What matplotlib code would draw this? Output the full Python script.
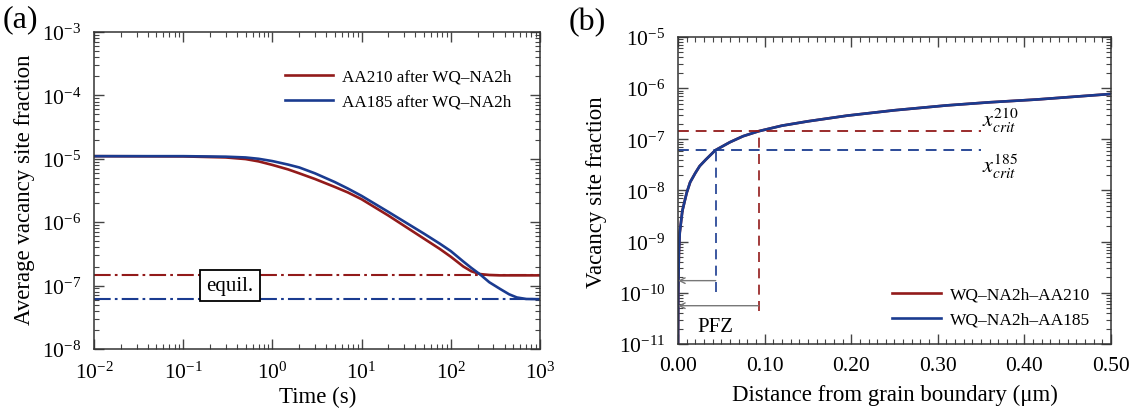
import numpy as np
import matplotlib
matplotlib.use("Agg")
import matplotlib.pyplot as plt
from matplotlib.ticker import LogLocator, MultipleLocator, FormatStrFormatter, NullFormatter

plt.rcParams['font.family'] = ['Liberation Serif', 'DejaVu Serif']
plt.rcParams['mathtext.fontset'] = 'stix'

RED = '#921a1a'
BLUE = '#1a3b90'

# ---- panel (a) data ----
time_s = [0.01, 0.1, 0.3, 0.5, 0.7, 1, 1.5, 2, 3, 5, 7, 10, 20, 50, 75, 100, 138, 170, 213,
          270, 355, 450, 550, 700, 1000]
avg_aa210 = [1.1e-5, 1.09e-5, 1.05e-5, 9.9e-6, 9.1e-6, 8.0e-6, 6.8e-6, 5.9e-6, 4.8e-6, 3.6e-6,
             2.95e-6, 2.3e-6, 1.27e-6, 5.5e-7, 3.8e-7, 2.85e-7, 2.0e-7, 1.68e-7, 1.52e-7,
             1.47e-7, 1.45e-7, 1.45e-7, 1.45e-7, 1.45e-7, 1.45e-7]
avg_aa185 = [1.1e-5, 1.1e-5, 1.08e-5, 1.05e-5, 1.0e-5, 9.2e-6, 8.1e-6, 7.3e-6, 5.9e-6, 4.3e-6,
             3.4e-6, 2.6e-6, 1.45e-6, 6.6e-7, 4.6e-7, 3.5e-7, 2.4e-7, 1.9e-7, 1.5e-7,
             1.13e-7, 8.9e-8, 7.3e-8, 6.5e-8, 6.15e-8, 6.1e-8]
equil_aa210 = 1.47e-7
equil_aa185 = 6.15e-8
legend_a = ['AA210 after WQ\u2013NA2h', 'AA185 after WQ\u2013NA2h']

# ---- panel (b) data ----
dist_um = [0.0, 0.0003, 0.001, 0.002, 0.005, 0.01, 0.014, 0.02, 0.025, 0.032, 0.043, 0.06,
           0.075, 0.093, 0.12, 0.15, 0.195, 0.25, 0.31, 0.36, 0.414, 0.5]
vac_profile = [1e-11, 1e-10, 6e-10, 1.5e-9, 4e-9, 9e-9, 1.45e-8, 2.2e-8, 3.0e-8, 4.0e-8, 6.1e-8, 8.8e-8,
               1.15e-7, 1.44e-7, 1.85e-7, 2.25e-7, 2.9e-7, 3.7e-7, 4.6e-7, 5.3e-7, 6.0e-7, 7.7e-7]
xcrit_210 = 1.45e-7
xcrit_185 = 6.1e-8
pfz_210 = 0.0932
pfz_185 = 0.0435
legend_b = ['WQ\u2013NA2h\u2013AA210', 'WQ\u2013NA2h\u2013AA185']

fig = plt.figure(figsize=(11.34, 4.14), dpi=100)
axa = fig.add_axes([0.0829, 0.1546, 0.3933, 0.7657])
axb = fig.add_axes([0.5979, 0.1667, 0.3818, 0.7415])

def style(ax):
    ax.tick_params(which='both', direction='in', top=True, right=True, colors='#444444',
                   labelcolor='black', labelsize=15.5)
    ax.tick_params(which='major', length=7, width=1)
    ax.tick_params(which='minor', length=3.5, width=0.8)
    ax.tick_params(axis='x', which='major', pad=9)
    ax.tick_params(axis='y', which='major', pad=9)
    for s in ax.spines.values():
        s.set_color('#333333')
        s.set_linewidth(1.1)

dashdot = (0, (8, 2, 1.3, 2))

# panel (a)
axa.set_xscale('log')
axa.set_yscale('log')
axa.axhline(equil_aa210, color=RED, lw=1.5, ls=dashdot)
axa.axhline(equil_aa185, color=BLUE, lw=1.5, ls=dashdot)
axa.plot(time_s, avg_aa210, color=RED, lw=1.9, label=legend_a[0])
axa.plot(time_s, avg_aa185, color=BLUE, lw=1.9, label=legend_a[1])
axa.set_xlim(1e-2, 1e3)
axa.set_ylim(1e-8, 1e-3)
axa.xaxis.set_major_locator(LogLocator(base=10, numticks=10))
axa.xaxis.set_minor_locator(LogLocator(base=10, subs=np.arange(2, 10), numticks=20))
axa.yaxis.set_major_locator(LogLocator(base=10, numticks=10))
axa.yaxis.set_minor_locator(LogLocator(base=10, subs=np.arange(2, 10), numticks=20))
axa.xaxis.set_minor_formatter(NullFormatter())
axa.yaxis.set_minor_formatter(NullFormatter())
style(axa)
axa.set_xlabel('Time (s)', fontsize=16.5, va='center')
axa.set_ylabel('Average vacancy site fraction', fontsize=16.5, va='center')
axa.xaxis.set_label_coords(0.502, -0.151)
axa.yaxis.set_label_coords(-0.155, 0.505)
axa.text(0.335, 1.0e-7, 'equil.', fontsize=15, ha='center', va='center',
         bbox=dict(boxstyle='square,pad=0.3', fc='white', ec='black', lw=1.3))
axa.legend(loc='upper left', bbox_to_anchor=(0.413, 0.905), frameon=False, fontsize=12.3,
           handlelength=2.8, handletextpad=0.55, labelspacing=0.5, borderaxespad=0)
fig.text(0.002, 0.952, '(a)', fontsize=23, ha='left', va='center')

# panel (b)
axb.set_yscale('log')
axb.plot(dist_um, vac_profile, color=RED, lw=1.9, label=legend_b[0])
axb.plot(dist_um, vac_profile, color=BLUE, lw=1.9, label=legend_b[1])
dash = (0, (6, 3.8))
axb.plot([0, 0.35], [xcrit_210, xcrit_210], color=RED, lw=1.3, ls=dash)
axb.plot([0, 0.35], [xcrit_185, xcrit_185], color=BLUE, lw=1.3, ls=dash)
axb.plot([pfz_210, pfz_210], [4.4e-11, xcrit_210], color=RED, lw=1.2, ls=dash)
axb.plot([pfz_185, pfz_185], [1.04e-10, xcrit_185], color=BLUE, lw=1.2, ls=dash)
axb.annotate('', xy=(0.0, 1.73e-10), xytext=(pfz_185, 1.73e-10),
             arrowprops=dict(arrowstyle='->', color='#777777', lw=1.0, shrinkA=0, shrinkB=0))
axb.annotate('', xy=(0.0, 5.6e-11), xytext=(pfz_210, 5.6e-11),
             arrowprops=dict(arrowstyle='->', color='#777777', lw=1.0, shrinkA=0, shrinkB=0))
axb.text(0.0427, 2.2e-11, 'PFZ', fontsize=15, ha='center', va='center')
axb.text(0.351, 2.4e-7, r'$\mathit{x}_{\mathit{crit}}^{\mathit{210}}$', fontsize=16, ha='left', va='center')
axb.text(0.351, 3.1e-8, r'$\mathit{x}_{\mathit{crit}}^{\mathit{185}}$', fontsize=16, ha='left', va='center')
axb.set_xlim(0, 0.5)
axb.set_ylim(1e-11, 1e-5)
axb.xaxis.set_major_locator(MultipleLocator(0.1))
axb.xaxis.set_minor_locator(MultipleLocator(0.01))
axb.xaxis.set_major_formatter(FormatStrFormatter('%.2f'))
axb.yaxis.set_major_locator(LogLocator(base=10, numticks=10))
axb.yaxis.set_minor_locator(LogLocator(base=10, subs=np.arange(2, 10), numticks=20))
axb.yaxis.set_minor_formatter(NullFormatter())
style(axb)
axb.set_xlabel('Distance from grain boundary (\u03bcm)', fontsize=16.5, va='center')
axb.set_ylabel('Vacancy site fraction', fontsize=16.5, va='center')
axb.xaxis.set_label_coords(0.5, -0.163)
axb.yaxis.set_label_coords(-0.189, 0.498)
axb.legend(loc='lower left', bbox_to_anchor=(0.478, 0.03), frameon=False, fontsize=12.5,
           handlelength=2.8, handletextpad=0.55, labelspacing=0.5, borderaxespad=0)
fig.text(0.501, 0.945, '(b)', fontsize=23, ha='left', va='center')

fig.savefig('out.png', dpi=100)
